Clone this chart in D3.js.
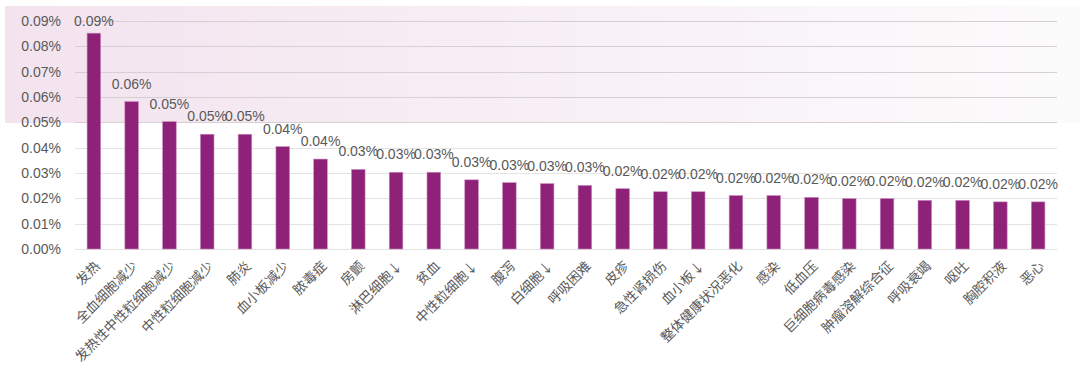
<!DOCTYPE html>
<html>
<head>
<meta charset="utf-8">
<script src="https://cdn.jsdelivr.net/npm/d3@7"></script>
<style>
  html, body { margin: 0; padding: 0; background: #ffffff; }
  svg { display: block; }
</style>
</head>
<body>
<svg id="chart" width="1080" height="374"></svg>
<script>
const categories = ["发热","全血细胞减少","发热性中性粒细胞减少","中性粒细胞减少","肺炎","血小板减少","脓毒症","房颤","淋巴细胞↓","贫血","中性粒细胞↓","腹泻","白细胞↓","呼吸困难","皮疹","急性肾损伤","血小板↓","整体健康状况恶化","感染","低血压","巨细胞病毒感染","肿瘤溶解综合征","呼吸衰竭","呕吐","胸腔积液","恶心"];
const values = [0.0852,0.0582,0.0503,0.0453,0.0453,0.0404,0.0355,0.0314,0.0303,0.0303,0.0273,0.0262,0.0258,0.0251,0.0238,0.0226,0.0226,0.0211,0.0211,0.0204,0.0199,0.0199,0.0192,0.0192,0.0186,0.0186];
const yTicks = [0,0.01,0.02,0.03,0.04,0.05,0.06,0.07,0.08,0.09];

const svg = d3.select("#chart");
const margin = {left: 75, right: 23, top: 21, bottom: 125};
const W = 1080, H = 374;

// background gradient panel
const defs = svg.append("defs");
const grad = defs.append("linearGradient").attr("id","bg").attr("x1","0").attr("x2","1").attr("y1","0").attr("y2","0");
grad.append("stop").attr("offset","0").attr("stop-color","#f3e3ee");
grad.append("stop").attr("offset","0.45").attr("stop-color","#f7eef5");
grad.append("stop").attr("offset","1").attr("stop-color","#fcfbfc");
svg.append("rect").attr("x",5).attr("y",6).attr("width",1075).attr("height",117).attr("fill","url(#bg)");

const x = d3.scaleBand().domain(categories).range([margin.left, W - margin.right]).paddingInner(0.64).paddingOuter(0.32);
const y = d3.scaleLinear().domain([0, 0.09]).range([249, 21]);

// gridlines
svg.append("g").selectAll("line").data(yTicks).join("line")
  .attr("x1", margin.left).attr("x2", W - margin.right)
  .attr("y1", d => Math.round(y(d)) + 0.5).attr("y2", d => Math.round(y(d)) + 0.5)
  .attr("stroke", d => y(d) < 123 ? "#d6d0d5" : "#e3e3e3").attr("stroke-width", 1);

// y axis labels
const fmt = d => d.toFixed(2) + "%";
const yAxis = d3.axisLeft(y).tickValues(yTicks).tickSize(0).tickPadding(0).tickFormat(fmt);
const ya = svg.append("g").attr("transform", "translate(61,0)").call(yAxis);
ya.select(".domain").remove();
ya.selectAll("text").attr("fill", "#595959").style("font-family", "'Liberation Sans Narrow','Liberation Sans',sans-serif").style("font-size", "14px");

// bars
svg.append("g").selectAll("rect").data(values).join("rect")
  .attr("x", (d,i) => x(categories[i]))
  .attr("width", x.bandwidth())
  .attr("y", d => y(d))
  .attr("height", d => y(0) - y(d))
  .attr("fill", "#8e2279")
  .attr("stroke", "#c98bbd").attr("stroke-width", 0.6);

// value labels
svg.append("g").selectAll("text").data(values).join("text")
  .attr("x", (d,i) => x(categories[i]) + x.bandwidth()/2)
  .attr("y", d => Math.max(y(d) - 13, 26))
  .attr("text-anchor", "middle")
  .attr("fill", "#595959")
  .style("font-family", "'Liberation Sans Narrow','Liberation Sans',sans-serif")
  .style("font-size", "14px")
  .text(d => fmt(d));

// x axis category labels
const xAxis = d3.axisBottom(x).tickSize(0).tickPadding(0);
const xa = svg.append("g").attr("transform", "translate(0,249)").call(xAxis);
xa.select(".domain").remove();
xa.selectAll("text")
  .attr("text-anchor", "end")
  .attr("fill", "#595959")
  .attr("dy", 0)
  .attr("y", 0)
  .attr("transform", "translate(7,18) rotate(-45)")
  .style("font-family", "'Noto Sans CJK SC',sans-serif")
  .style("font-size", "13.5px");
</script>
</body>
</html>
